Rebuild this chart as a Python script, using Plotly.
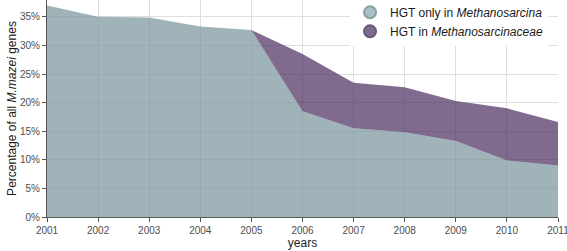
import plotly.graph_objects as go

years = [2001, 2002, 2003, 2004, 2005, 2006, 2007, 2008, 2009, 2010, 2011]
only_methanosarcina = [37.0, 35.0, 34.9, 33.3, 32.7, 18.5, 15.5, 14.8, 13.3, 9.9, 9.0]
in_methanosarcinaceae = [0.0, 0.0, 0.0, 0.0, 0.0, 10.0, 8.0, 7.9, 7.0, 9.1, 7.6]
y_ticks = [0, 5, 10, 15, 20, 25, 30, 35]
y_tick_labels = [f"{v}%" for v in y_ticks]

blue_fill = "rgba(122,150,158,0.72)"
purple_fill = "rgba(74,44,94,0.70)"

total = [a + b for a, b in zip(only_methanosarcina, in_methanosarcinaceae)]

fig = go.Figure()
fig.add_trace(go.Scatter(x=years, y=only_methanosarcina, mode="lines", line=dict(width=0),
                         fill="tozeroy", fillcolor=blue_fill, showlegend=False, hoverinfo="skip"))
fig.add_trace(go.Scatter(x=years, y=total, mode="lines", line=dict(width=0),
                         fill="tonexty", fillcolor=purple_fill, showlegend=False, hoverinfo="skip"))
# legend entries
fig.add_trace(go.Scatter(x=[None], y=[None], mode="markers",
                         marker=dict(symbol="circle", size=11, color="#a8bfc6",
                                     line=dict(color="#8a9ea4", width=1)),
                         name="HGT only in <i>Methanosarcina</i>"))
fig.add_trace(go.Scatter(x=[None], y=[None], mode="markers",
                         marker=dict(symbol="circle", size=11, color="#7d6a8c",
                                     line=dict(color="#6a5878", width=1)),
                         name="HGT in <i>Methanosarcinaceae</i>"))

fig.update_layout(
    width=567, height=251,
    margin=dict(l=47, r=9, t=0, b=34, autoexpand=False),
    paper_bgcolor="white", plot_bgcolor="white",
    font=dict(family="Liberation Sans, Arial, sans-serif", size=10, color="#4d4d4d"),
    legend=dict(x=0.593, y=1.01, xanchor="left", yanchor="top",
                traceorder="normal",
                bgcolor="white", font=dict(size=12, color="#1a1a1a"),
                itemsizing="constant", tracegroupgap=0,
                borderwidth=0),
    xaxis=dict(range=[2001, 2011], tickvals=years, ticktext=[str(y) for y in years],
               showgrid=True, gridcolor="#dedede", gridwidth=1,
               showline=True, linecolor="#555555", linewidth=1,
               ticks="outside", ticklen=4, tickcolor="#555555",
               zeroline=False, automargin=False, ticklabeloverflow="allow",
               title=dict(text="years", font=dict(size=12, color="#1a1a1a"), standoff=0)),
    yaxis=dict(range=[0, 37.95], tickvals=y_ticks, ticktext=y_tick_labels,
               showgrid=True, gridcolor="#dedede", gridwidth=1,
               showline=True, linecolor="#555555", linewidth=1,
               ticks="outside", ticklen=4, tickcolor="#555555",
               zeroline=False, automargin=False,
               title=dict(text="Percentage of all <i>M.mazei</i> genes",
                          font=dict(size=12, color="#1a1a1a"), standoff=0)),
)

fig.write_html("out.html", config={"displayModeBar": False},
               post_script="document.body.style.margin='0';document.body.style.padding='0';")
